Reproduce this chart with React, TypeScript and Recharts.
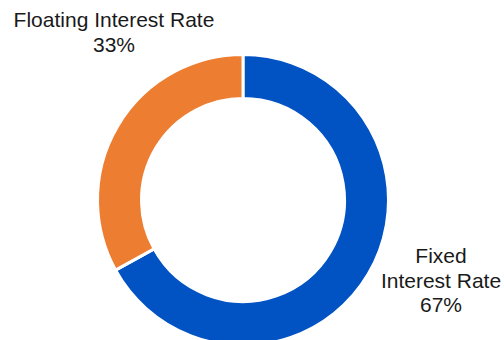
import { PieChart, Pie, Cell } from "recharts"

const names = ["Fixed Interest Rate", "Floating Interest Rate"]
const values = [67, 33]
const labelLines = [
  ["Fixed", "Interest Rate", "67%"],
  ["Floating Interest Rate", "33%"],
]
const COLORS = ["#0152C3", "#ED7D31"]

const data = names.map((name, i) => ({ name, value: values[i] }))

// label anchor (first baseline) relative to pie centre
const LABEL_POS = [
  { dx: 198, dy: 63 },
  { dx: -129, dy: -173 },
]

function renderLabel(props: any) {
  const { cx, cy, index } = props
  const pos = LABEL_POS[index]
  return (
    <text
      x={cx + pos.dx}
      y={cy + pos.dy}
      textAnchor="middle"
      fill="#1a1a1a"
      fontSize={21}
      fontFamily="Liberation Sans, Arial, sans-serif"
    >
      {labelLines[index].map((line, i) => (
        <tspan key={i} x={cx + pos.dx} dy={i === 0 ? 0 : 24.5}>
          {line}
        </tspan>
      ))}
    </text>
  )
}

export default function App() {
  return (
    <div style={{ position: "absolute", left: 0, top: 0, background: "#fff" }}>
      <PieChart width={504} height={340} margin={{ top: 0, right: 0, bottom: 0, left: 0 }}>
        <Pie
          data={data}
          dataKey="value"
          nameKey="name"
          cx={243}
          cy={200}
          outerRadius={145.5}
          innerRadius={101.5}
          startAngle={90}
          endAngle={-270}
          stroke="#ffffff"
          strokeWidth={3}
          label={renderLabel}
          labelLine={false}
          isAnimationActive={false}
        >
          {data.map((_, i) => (
            <Cell key={i} fill={COLORS[i]} />
          ))}
        </Pie>
      </PieChart>
    </div>
  )
}
